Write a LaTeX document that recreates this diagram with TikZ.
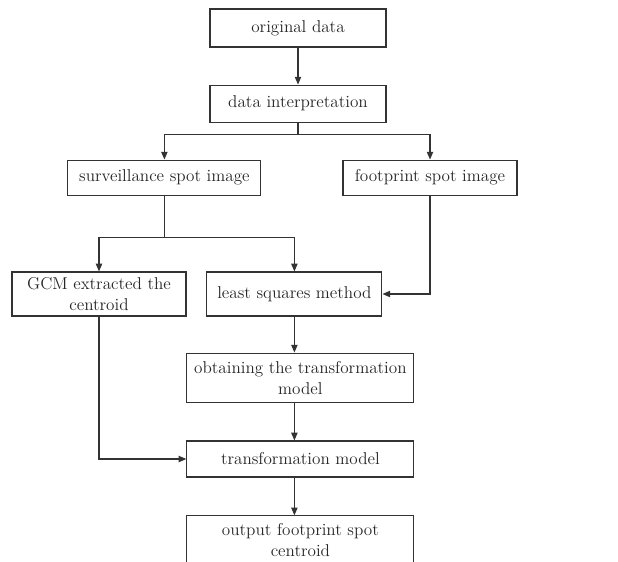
\documentclass[tikz,border=0pt]{standalone}
\usetikzlibrary{arrows.meta}
\begin{document}
\begin{tikzpicture}[
  box/.style={draw=black!80, line width=0.8pt, inner sep=0pt, align=center,
    text=black!85, font=\fontsize{12.2}{15}\selectfont},
  link/.style={draw=black!80, line width=0.8pt},
  >={Triangle[length=5.5pt,width=4.5pt]}]
\useasboundingbox (0,0) rectangle (15.45,-14.025);
\clip (0,0) rectangle (15.45,-14.025);
% boxes
\node[box, minimum width=4.4cm, minimum height=0.95cm] (orig) at (7.45,-0.7) {original data};
\node[box, minimum width=4.4cm, minimum height=0.925cm] (interp) at (7.45,-2.59) {data interpretation};
\node[box, minimum width=4.825cm, minimum height=0.875cm] (surv) at (4.11,-4.44) {surveillance spot image};
\node[box, minimum width=4.35cm, minimum height=0.875cm] (foot) at (10.75,-4.44) {footprint spot image};
\node[box, minimum width=4.35cm, minimum height=1.1cm] (gcm) at (2.475,-7.35) {GCM extracted the\\centroid};
\node[box, minimum width=4.375cm, minimum height=1.1cm] (lsq) at (7.36,-7.35) {least squares method};
\node[box, minimum width=5.675cm, minimum height=1.225cm] (obtain) at (7.51,-9.44) {obtaining the transformation\\model};
\node[box, minimum width=5.675cm, minimum height=0.9cm] (trans) at (7.51,-11.475) {transformation model};
\node[box, minimum width=5.675cm, minimum height=1.225cm] (output) at (7.51,-13.51) {output footprint spot\\centroid};
% connectors
\draw[link,->] (orig) -- (interp);
\draw[link] (interp.south) -- ++(0,-0.3) coordinate (fork1);
\draw[link,->] (fork1) -| (surv.north);
\draw[link,->] (fork1) -| (foot.north);
\draw[link] (surv.south) -- ++(0,-1.05) coordinate (fork2);
\draw[link,->] (fork2) -| (gcm.north);
\draw[link,->] (fork2) -| (lsq.north);
\draw[link,->] (foot.south) |- (lsq.east);
\draw[link,->] (lsq.south) -- (lsq.south |- obtain.north);
\draw[link,->] (lsq.south |- obtain.south) -- (lsq.south |- trans.north);
\draw[link,->] (gcm.south) |- (trans.west);
\draw[link,->] (lsq.south |- trans.south) -- (lsq.south |- output.north);
\end{tikzpicture}
\end{document}
